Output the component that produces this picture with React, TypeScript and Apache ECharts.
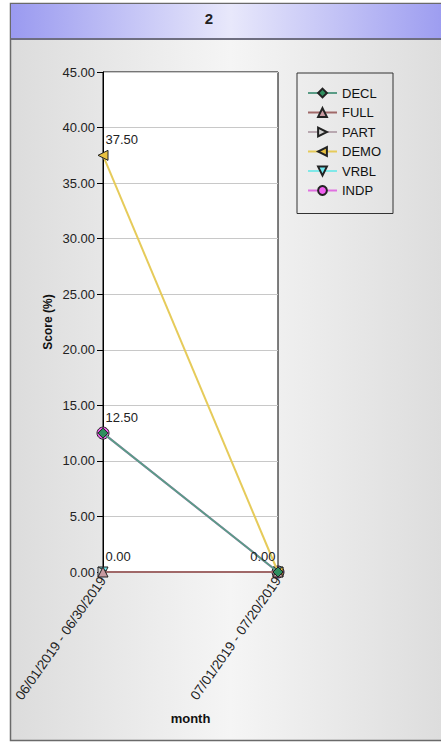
import React, { useEffect, useRef } from "react";
import * as echarts from "echarts";

const categories = ["06/01/2019 - 06/30/2019", "07/01/2019 - 07/20/2019"];
const seriesNames = ["DECL", "FULL", "PART", "DEMO", "VRBL", "INDP"];
const declValues = [12.5, 0];
const fullValues = [0, 0];
const partValues = [0, 0];
const demoValues = [37.5, 0];
const vrblValues = [0, 0];
const indpValues = [12.5, 0];
// which point indices carry a value label, per series
const declLabels = [0, 1];
const fullLabels = [0];
const demoLabels = [0];
const yTicks = { min: 0, max: 45, interval: 5 };
const title = "2";
const yName = "Score (%)";
const xName = "month";

const FONT = "'Liberation Sans', Arial, sans-serif";

function mkData(values: number[], labelled: number[]) {
  return values.map((v, i) =>
    labelled.includes(i)
      ? {
          value: v,
          label: {
            show: true,
            position: i === 0 ? [8, -4] : [3, -4],
            align: i === 0 ? "left" : "right",
            verticalAlign: "bottom",
            formatter: (p: any) => Number(p.value).toFixed(2),
            fontSize: 13,
            fontFamily: FONT,
            color: "#222",
          },
        }
      : v
  );
}

export default function App() {
  const ref = useRef<HTMLDivElement>(null);
  useEffect(() => {
    document.body.style.margin = "0";
    const chart = echarts.init(ref.current!, null, { renderer: "svg" });
    const mk = (
      name: string,
      values: number[],
      labelled: number[],
      symbol: string,
      lineColor: string,
      fill: string,
      z: number,
      size = 10
    ) => ({
      name,
      type: "line",
      data: mkData(values, labelled),
      symbol,
      symbolSize: size,
      showAllSymbol: true,
      z,
      lineStyle: { color: lineColor, width: 2 },
      itemStyle: { color: fill, borderColor: "#222", borderWidth: 1 },
      emphasis: { disabled: true },
    });
    const option: any = {
      animation: false,
      graphic: [
        {
          type: "rect",
          z: -10,
          shape: { x: 10.5, y: 3.5, width: 440, height: 737 },
          style: {
            fill: new echarts.graphic.LinearGradient(0, 0, 1, 0, [
              { offset: 0, color: "#dcdcdc" },
              { offset: 0.5, color: "#f5f5f5" },
              { offset: 1, color: "#dcdcdc" },
            ]),
            stroke: "#6a6a6a",
            lineWidth: 1.5,
          },
        },
        {
          type: "rect",
          z: -9,
          shape: { x: 11, y: 4, width: 440, height: 34 },
          style: {
            fill: new echarts.graphic.LinearGradient(0, 0, 1, 0, [
              { offset: 0, color: "#9a9af0" },
              { offset: 0.5, color: "#e8e8fb" },
              { offset: 1, color: "#9a9af0" },
            ]),
          },
        },
        {
          type: "line",
          z: -8,
          shape: { x1: 11, y1: 39, x2: 441, y2: 39 },
          style: { stroke: "#6e6e80", lineWidth: 2 },
        },
        {
          type: "text",
          z: -7,
          x: 209,
          y: 18,
          style: {
            text: title,
            fontSize: 15,
            fontWeight: "bold",
            fontFamily: FONT,
            fill: "#222",
            align: "center",
            verticalAlign: "middle",
          },
        },
      ],
      legend: {
        data: seriesNames,
        orient: "vertical",
        left: 297,
        top: 73,
        padding: [13, 12, 16, 10],
        itemWidth: 29,
        itemHeight: 11,
        itemGap: 5.5,
        borderColor: "#333",
        borderWidth: 1,
        backgroundColor: "rgba(0,0,0,0)",
        textStyle: { fontSize: 13, lineHeight: 14, fontFamily: FONT, color: "#111" },
        selectedMode: false,
      },
      grid: {
        left: 103,
        top: 72,
        width: 175,
        height: 500,
        show: true,
        backgroundColor: "#ffffff",
        borderColor: "#000",
        borderWidth: 1,
      },
      xAxis: {
        type: "category",
        data: categories,
        boundaryGap: false,
        name: xName,
        nameLocation: "middle",
        nameGap: 140,
        nameTextStyle: { fontSize: 13, fontWeight: "bold", fontFamily: FONT, color: "#111" },
        axisLine: { lineStyle: { color: "#000", width: 1 } },
        axisTick: { show: false },
        axisLabel: {
          interval: 0,
          rotate: 55,
          fontSize: 13.5,
          fontFamily: FONT,
          color: "#222",
          margin: 6,
        },
      },
      yAxis: {
        type: "value",
        min: yTicks.min,
        max: yTicks.max,
        interval: yTicks.interval,
        name: yName,
        nameLocation: "middle",
        nameGap: 49,
        nameTextStyle: { fontSize: 12, fontWeight: "bold", fontFamily: FONT, color: "#111" },
        axisLine: { show: true, lineStyle: { color: "#000" } },
        axisTick: { show: true, length: 6, lineStyle: { color: "#000" } },
        axisLabel: {
          formatter: (v: number) => v.toFixed(2),
          fontSize: 13,
          fontFamily: FONT,
          color: "#222",
          margin: 8,
        },
        splitLine: { lineStyle: { color: "#c8c8c8", width: 1 } },
      },
      series: [
        mk("DECL", declValues, declLabels, "diamond", "#5a9c86", "#2f8f5f", 10, 10),
        mk("FULL", fullValues, fullLabels, "triangle", "#a06868", "#c89aa0", 9),
        mk("PART", partValues, [], "path://M0,0L10,5L0,10Z", "#b8a8b0", "#d0d0d0", 8),
        mk("DEMO", demoValues, demoLabels, "path://M10,0L0,5L10,10Z", "#e6cb5a", "#e8c040", 7),
        mk("VRBL", vrblValues, [], "path://M0,0L10,0L5,10Z", "#80e8e8", "#70e8f0", 6),
        mk("INDP", indpValues, [], "circle", "#e070e0", "#f060f0", 5, 12),
      ],
    };
    chart.setOption(option);
    return () => chart.dispose();
  }, []);
  return (
    <div
      ref={ref}
      style={{ position: "absolute", left: 0, top: 0, width: 441, height: 743 }}
    />
  );
}
